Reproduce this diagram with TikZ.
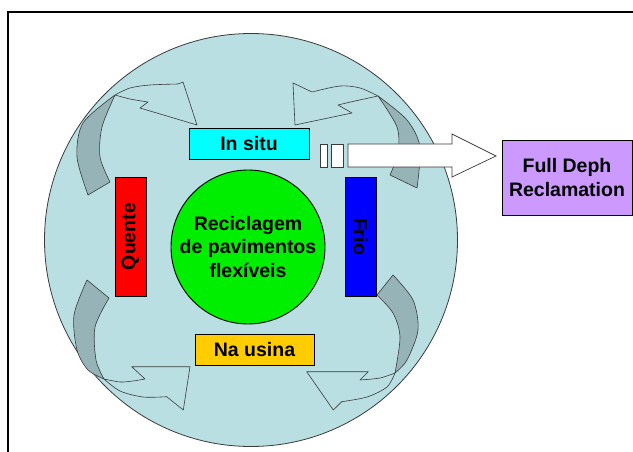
\documentclass[tikz,border=0pt]{standalone}
\usepackage{fontspec}
\setmainfont{Liberation Sans}
\definecolor{bigfill}{HTML}{B9DFE2}
\definecolor{ribbon}{HTML}{96B4B8}
\definecolor{lineg}{HTML}{3A3A3A}
\definecolor{nagold}{HTML}{FFCC00}
\definecolor{lilac}{HTML}{CC99FF}
\definecolor{cyanbox}{HTML}{00FFFF}
\definecolor{greencore}{HTML}{00EE00}
\definecolor{redbox}{HTML}{FF0000}
\definecolor{bluebox}{HTML}{0000FF}
\tikzset{
  lbl/.style={font=\fontsize{19.5}{23.5}\selectfont\bfseries, text=black},
  box/.style={rectangle, draw=black, line width=0.9pt, inner sep=0pt, lbl},
  back/.style={fill=ribbon, draw=lineg, line width=0.6pt, line join=round},
  front/.style={fill=bigfill, draw=lineg, line width=0.6pt, line join=round},
  bigarrow/.style={fill=white, draw=lineg, line width=0.7pt, line join=miter}
}
\begin{document}
\begin{tikzpicture}[x=1pt,y=-1pt]
\useasboundingbox (0,0) rectangle (633,452);
% frame
\draw[line width=1.3pt] (8,452) -- (8,12) -- (633,12);
% big circle
\node[circle, fill=bigfill, draw=lineg, line width=0.8pt, minimum size=413pt, inner sep=0pt] (disc) at (251,240) {};
% top-left curved arrow
\draw[back] plot[smooth] coordinates {(88,195) (77,157) (83,123) (115,95)}
  -- plot[smooth] coordinates {(115,95) (102,127) (100,157) (110,182)} -- cycle;
\draw[front] plot[smooth] coordinates {(115,95) (130,88) (150,85) (178,84)}
  -- (183,82) -- (197,125) -- (140,108) -- (148,102)
  -- plot[smooth] coordinates {(148,102) (130,99) (115,95)} -- cycle;
% top-right curved arrow
\draw[back] plot[smooth] coordinates {(417,188) (420,147) (407,120) (378,96)}
  -- plot[smooth] coordinates {(378,96) (397,127) (398,153) (390,175)} -- cycle;
\draw[front] plot[smooth] coordinates {(378,96) (360,88) (340,86) (312,92)}
  -- (293,83) -- (295,125) -- (352,113) -- (338,105)
  -- plot[smooth] coordinates {(338,105) (355,101) (378,96)} -- cycle;
% bottom-left curved arrow
\draw[back] plot[smooth] coordinates {(87,280) (74,315) (77,350) (88,370) (104,379)}
  -- plot[smooth] coordinates {(104,379) (96,360) (95,327) (109,298)} -- cycle;
\draw[front] plot[smooth] coordinates {(104,379) (120,382) (133,381) (145,379)}
  -- (131.7,366.7) -- (190,366.7) -- (183.3,410) -- (166.7,396.7)
  -- plot[smooth] coordinates {(166.7,396.7) (143,397) (120,391) (104,379)} -- cycle;
% bottom-right curved arrow
\draw[back] plot[smooth] coordinates {(393,275) (413,300) (418,330) (407,360) (395,373)}
  -- plot[smooth] coordinates {(395,373) (400,337) (393,313) (377,295)} -- cycle;
\draw[front] plot[smooth] coordinates {(395,373) (380,378) (360,380)}
  -- (368.3,371.7) -- (306.7,371.7) -- (333.3,410) -- (341.7,401.7)
  -- plot[smooth] coordinates {(341.7,401.7) (367,397) (387,387) (395,373)} -- cycle;
% nodes
\node[circle, fill=greencore, draw=black, line width=0.9pt, minimum size=154pt, inner sep=0pt, align=center, lbl] (core) at (248,247) {Reciclagem\\de pavimentos\\flexíveis};
\node[box, fill=cyanbox, minimum width=120pt, minimum height=31pt] (insitu) at (249,143.5) {In situ};
\node[box, fill=nagold, minimum width=119pt, minimum height=31pt] (usina) at (254.5,349.5) {Na usina};
\node[box, fill=redbox, minimum width=119pt, minimum height=31pt, rotate=90] (quente) at (130.5,236.5) {Quente};
\node[box, fill=bluebox, minimum width=119pt, minimum height=31pt, rotate=-90] (frio) at (360.5,236.5) {Frio};
\node[box, fill=lilac, minimum width=130pt, minimum height=75pt, align=center] (fdr) at (567,177.5) {Full Deph\\Reclamation};
% big white arrow towards fdr
\coordinate (tip) at (496,156);
\draw[bigarrow] (320,144) rectangle (327,167);
\draw[bigarrow] (331,144) rectangle (343,167);
\draw[bigarrow] (348,144) -- (452,144) -- (452,134) -- (tip) -- (452,177) -- (452,167) -- (348,167) -- cycle;
\end{tikzpicture}
\end{document}
